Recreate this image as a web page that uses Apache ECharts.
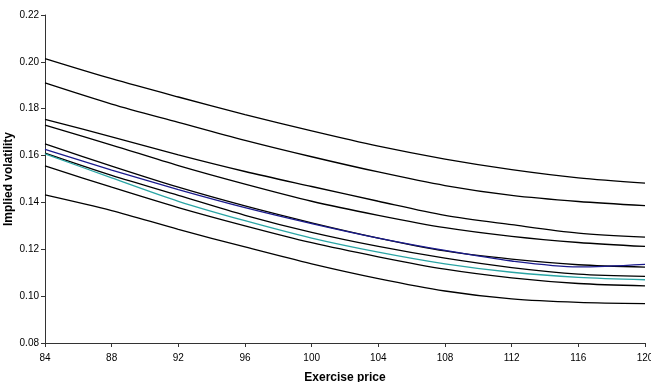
<!DOCTYPE html>
<html>
<head>
<meta charset="utf-8">
<script src="https://cdn.jsdelivr.net/npm/echarts@6/dist/echarts.min.js"></script>
<style>
  html, body { margin: 0; padding: 0; background: #fff; }
  #chart { width: 651px; height: 382px; }
</style>
</head>
<body>
<div id="chart"></div>
<script>
// exercise prices
var prices = [84, 88, 92, 96, 100, 104, 108, 112, 116, 120]

// implied volatility curves
var black1 = [0.2014, 0.1928, 0.1850, 0.1775, 0.1705, 0.1640, 0.1585, 0.1540, 0.1505, 0.1482]
var black2 = [0.1910, 0.1820, 0.1742, 0.1665, 0.1595, 0.1530, 0.1472, 0.1430, 0.1404, 0.1386]
var black3 = [0.1755, 0.1680, 0.1603, 0.1532, 0.1468, 0.1405, 0.1345, 0.1305, 0.1269, 0.1252]
var black4 = [0.1730, 0.1645, 0.1557, 0.1478, 0.1405, 0.1345, 0.1292, 0.1255, 0.1229, 0.1212]
var black5 = [0.1650, 0.1555, 0.1465, 0.1385, 0.1313, 0.1248, 0.1193, 0.1158, 0.1134, 0.1124]
var navy = [0.1626, 0.1538, 0.1455, 0.1378, 0.1310, 0.1248, 0.1195, 0.1150, 0.1125, 0.1136]
var black6 = [0.1610, 0.1515, 0.1430, 0.1345, 0.1272, 0.1212, 0.1162, 0.1122, 0.1094, 0.1084]
var teal = [0.1607, 0.1505, 0.1405, 0.1322, 0.1248, 0.1188, 0.1138, 0.1102, 0.1080, 0.1070]
var black7 = [0.1556, 0.1465, 0.1378, 0.1300, 0.1228, 0.1168, 0.1115, 0.1078, 0.1054, 0.1044]
var black8 = [0.1432, 0.1365, 0.1285, 0.1210, 0.1138, 0.1075, 0.1022, 0.0988, 0.0973, 0.0968]

var curves = [
  [black1, '#000000'], [black2, '#000000'], [black3, '#000000'], [black4, '#000000'],
  [black5, '#000000'], [navy, '#1a1a8c'], [black6, '#000000'], [teal, '#2aa5a5'],
  [black7, '#000000'], [black8, '#000000']
]

function pairs(vals) {
  var out = []
  for (var i = 0; i < prices.length; i++) {
    out.push([prices[i], vals[i]])
  }
  return out
}

var series = []
for (var i = 0; i < curves.length; i++) {
  series.push({
    type: 'line',
    data: pairs(curves[i][0]),
    smooth: 0.3,
    showSymbol: false,
    lineStyle: { color: curves[i][1], width: 1.3 },
    emphasis: { disabled: true }
  })
}

var myChart = echarts.init(document.getElementById('chart'))
var option = {
  animation: false,
  grid: { left: 45, right: 6, top: 15, bottom: 39, containLabel: false, outerBoundsMode: 'none' },
  xAxis: {
    type: 'value',
    min: 84, max: 120, interval: 4,
    name: 'Exercise price',
    nameLocation: 'middle',
    nameGap: 29,
    nameMoveOverlap: false,
    nameTextStyle: { fontFamily: 'Liberation Sans', fontWeight: 'bold', fontSize: 12, color: '#000' },
    axisLine: { lineStyle: { color: '#333', width: 1 } },
    axisTick: { show: true, length: 4, lineStyle: { color: '#333' } },
    axisLabel: { fontFamily: 'Liberation Sans', fontSize: 10, color: '#000', margin: 10, hideOverlap: false },
    splitLine: { show: false }
  },
  yAxis: {
    type: 'value',
    min: 0.08, max: 0.22, interval: 0.02,
    name: 'Implied volatility',
    nameLocation: 'middle',
    nameGap: 30,
    nameMoveOverlap: false,
    nameTextStyle: { fontFamily: 'Liberation Sans', fontWeight: 'bold', fontSize: 12, color: '#000' },
    axisLine: { show: true, lineStyle: { color: '#333', width: 1 } },
    axisTick: { show: true, length: 4, lineStyle: { color: '#333' } },
    axisLabel: {
      fontFamily: 'Liberation Sans', fontSize: 10, color: '#000', margin: 6,
      formatter: function (v) { return v.toFixed(2) }
    },
    splitLine: { show: false }
  },
  series: series
}
myChart.setOption(option)
</script>
</body>
</html>
